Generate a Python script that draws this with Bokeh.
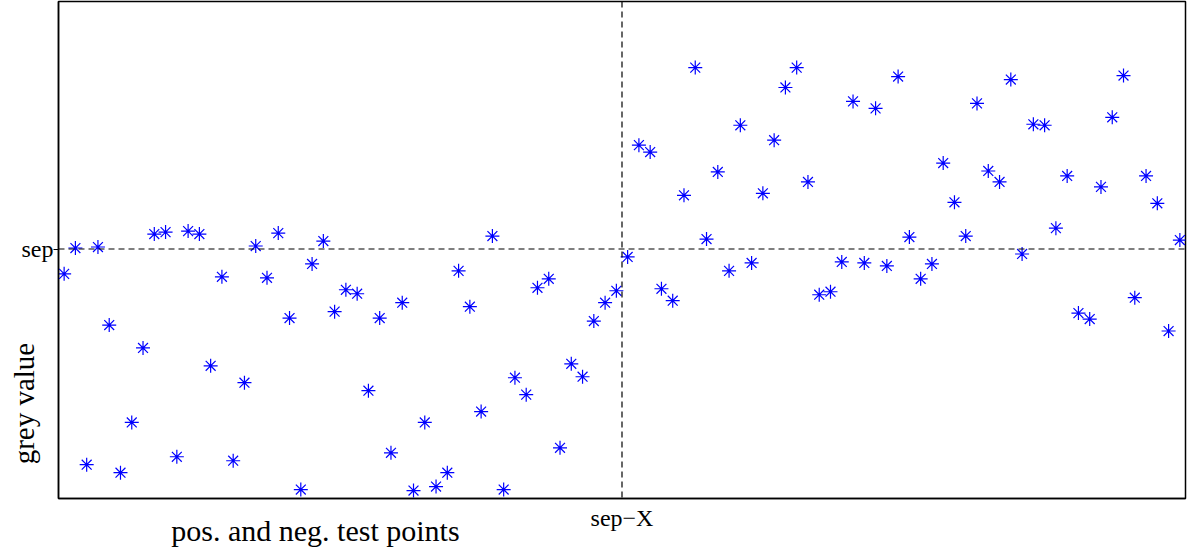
from bokeh.plotting import figure
from bokeh.models import Range1d, FixedTicker, Span, LinearAxis
from bokeh.embed import file_html
from bokeh.resources import INLINE

# test point index and grey values (arbitrary units, 0..100)
idx = list(range(1, 101))
grey = [45.2, 50.4, 6.8, 50.6, 34.9, 5.2, 15.3, 30.3, 53.2, 53.6,
        8.4, 53.8, 53.2, 26.7, 44.6, 7.6, 23.3, 50.8, 44.4, 53.4,
        36.3, 1.8, 47.2, 51.8, 37.6, 42.0, 41.2, 21.7, 36.3, 9.2,
        39.4, 1.6, 15.3, 2.4, 5.2, 45.8, 38.6, 17.5, 52.8, 1.8,
        24.3, 20.9, 42.4, 44.2, 10.2, 27.1, 24.5, 35.7, 39.4, 41.8,
        48.6, 71.1, 69.7, 42.2, 39.8, 61.0, 86.7, 52.2, 65.7, 45.8,
        75.1, 47.4, 61.4, 72.1, 82.7, 86.7, 63.7, 41.0, 41.6, 47.6,
        79.9, 47.4, 78.5, 46.8, 84.9, 52.6, 44.2, 47.2, 67.5, 59.6,
        52.8, 79.5, 65.9, 63.7, 84.3, 49.2, 75.3, 75.1, 54.4, 64.9,
        37.3, 36.1, 62.7, 76.7, 85.1, 40.4, 64.9, 59.4, 33.7, 52.0]
sep = 50.2
sep_x = 50.5
x_tick_labels = {sep_x: "sep\u2212X"}
y_tick_labels = {sep: "sep"}
x_label = "pos. and neg. test points"
y_label = "grey value"
x_label_pos = 23.3
y_label_pos = 19.1

FONT = "Liberation Serif"

p = figure(width=1194, height=549, output_backend="svg", toolbar_location=None,
           x_range=Range1d(0.5, 100.5), y_range=Range1d(0, 100),
           min_border_left=58, min_border_right=9, min_border_top=1, min_border_bottom=50)
p.background_fill_color = "white"
p.border_fill_color = "white"
p.grid.visible = False
p.outline_line_color = "black"
p.outline_line_width = 1.5

p.xaxis.ticker = FixedTicker(ticks=[sep_x])
p.xaxis.major_label_overrides = x_tick_labels
p.yaxis.ticker = FixedTicker(ticks=[sep])
p.yaxis.major_label_overrides = y_tick_labels
for ax in (p.xaxis, p.yaxis):
    ax.minor_tick_line_color = None
    ax.major_tick_in = 0
    ax.axis_line_color = "black"
    ax.axis_line_width = 1.5
    ax.major_label_text_font = FONT
    ax.major_label_text_font_size = "24px"
    ax.major_label_text_color = "black"
p.xaxis.major_tick_line_color = None
p.xaxis.major_tick_out = 0
p.xaxis.major_label_standoff = 6
p.yaxis.major_tick_line_color = "black"
p.yaxis.major_tick_out = 5
p.yaxis.major_label_standoff = 0

# outer axes carrying the axis titles at their positions
xl = LinearAxis(ticker=FixedTicker(ticks=[x_label_pos]),
                major_label_overrides={x_label_pos: x_label},
                axis_line_color=None, major_tick_line_color=None, minor_tick_line_color=None,
                major_tick_in=0, major_tick_out=0, major_label_standoff=-20,
                major_label_text_font=FONT, major_label_text_font_size="30px",
                major_label_text_color="black")
p.add_layout(xl, "below")
yl = LinearAxis(ticker=FixedTicker(ticks=[y_label_pos]),
                major_label_overrides={y_label_pos: y_label},
                major_label_orientation="vertical",
                axis_line_color=None, major_tick_line_color=None, minor_tick_line_color=None,
                major_tick_in=0, major_tick_out=0, major_label_standoff=-22,
                major_label_text_font=FONT, major_label_text_font_size="29px",
                major_label_text_color="black")
p.add_layout(yl, "left")

p.add_layout(Span(location=sep, dimension="width", line_color="black",
                  line_dash="6 4", line_width=1.2))
p.add_layout(Span(location=sep_x, dimension="height", line_color="black",
                  line_dash="6 4", line_width=1.2))

p.scatter(idx, grey, marker="asterisk", size=14, line_color="#0000ff", line_width=1.2)

open("out.html", "w").write(file_html(p, INLINE))
